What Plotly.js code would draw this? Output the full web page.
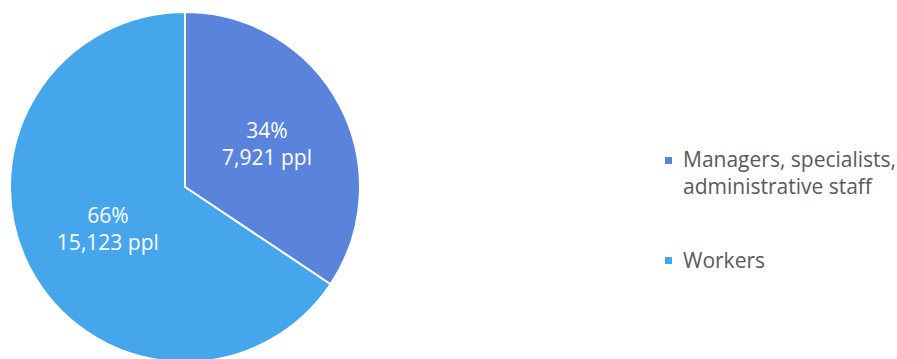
<!DOCTYPE html>
<html>
<head>
<meta charset="utf-8">
<script src="https://cdn.plot.ly/plotly-3.0.1.min.js"></script>
<style>
html, body { margin: 0; padding: 0; overflow: hidden; background: #fff; }
#chart { width: 897px; height: 365px; }
</style>
</head>
<body>
<div id="chart"></div>
<script>
const categories = ["Managers, specialists, administrative staff", "Workers"];
const legendLabels = ["Managers, specialists,<br>administrative staff", "Workers"];
const headcount = [7921, 15123];
const percentLabels = ["34%", "66%"];
const colors = ["#5A83DB", "#45A6EC"];

const W = 897, H = 365;
const sliceText = headcount.map((v, i) => percentLabels[i] + "<br>" + v.toLocaleString("en-US") + " ppl");

const data = [{
  type: "pie",
  labels: categories,
  values: headcount,
  text: sliceText,
  textinfo: "text",
  textposition: "inside",
  insidetextorientation: "horizontal",
  insidetextfont: { family: "Open Sans", size: 21, color: "#ffffff" },
  sort: false,
  direction: "clockwise",
  rotation: 0,
  showlegend: false,
  marker: { colors: colors, line: { color: "#ffffff", width: 2 } },
  domain: { x: [10 / W, 360 / W], y: [3 / H, 353 / H] }
}];

// Legend drawn as shapes + annotations (positions in pixels)
const legendSymbolCenters = [160.5, 260.5];
const legendTextCenters = [173, 260];
const shapes = colors.map((c, i) => ({
  type: "rect", xref: "paper", yref: "paper",
  x0: 665 / W, x1: 672 / W,
  y0: 1 - (legendSymbolCenters[i] + 3.5) / H, y1: 1 - (legendSymbolCenters[i] - 3.5) / H,
  fillcolor: c, line: { width: 0 }
}));
const annotations = legendLabels.map((t, i) => ({
  xref: "paper", yref: "paper",
  x: 681 / W, y: 1 - legendTextCenters[i] / H,
  xanchor: "left", yanchor: "middle", align: "left",
  text: t, showarrow: false,
  font: { family: "Open Sans", size: 21, color: "#595959" }
}));

const layout = {
  width: W,
  height: H,
  margin: { l: 0, r: 0, t: 0, b: 0 },
  paper_bgcolor: "#ffffff",
  showlegend: false,
  shapes: shapes,
  annotations: annotations
};

Plotly.newPlot("chart", data, layout, { displayModeBar: false, staticPlot: true });
</script>
</body>
</html>
